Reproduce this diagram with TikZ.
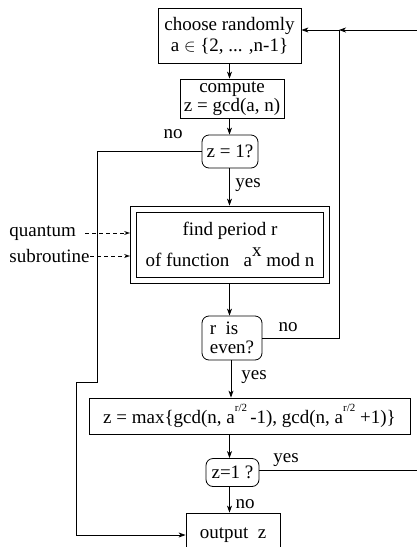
\documentclass[tikz,border=0pt]{standalone}
\usepackage{fontspec}
\setmainfont{Liberation Serif}
\usetikzlibrary{arrows.meta,positioning}
\newcommand{\halfexp}{\raisebox{12pt}{\fontsize{11}{11}\selectfont r/2}}

\begin{document}
\begin{tikzpicture}[x=1pt,y=1pt,>={Stealth[length=7pt,width=5pt,inset=2pt]},
  font=\rmfamily\fontsize{19}{21}\selectfont,line width=0.8pt,
  box/.style={draw,inner sep=0pt,align=center},
  cond/.style={draw,rounded corners=7pt,inner sep=0pt},
  lab/.style={inner sep=0pt}]
\useasboundingbox (0,0) rectangle (417,-547);

\node[box,minimum width=143pt,minimum height=55pt] (choose) at (229.5,-35.5)
  {choose randomly\\a $\in$ \{2, ... ,n-1\}};
\node[box,minimum width=104pt,minimum height=39pt,below of=choose,node distance=63pt,xshift=2.5pt] (compute)
  {compute\\[-2pt]z = gcd(a, n)};
\node[cond,minimum width=56pt,minimum height=33pt,below of=compute,node distance=53pt,xshift=-2pt] (zone)
  {z = 1?};
\node[box,minimum width=187pt,minimum height=65pt,below of=zone,node distance=93pt] (period)
  {find period r\\[8pt]of function\ \ \ a\raisebox{10pt}{x}\ mod n};
\node[draw,minimum width=199pt,minimum height=77pt] (periodo) at (period) {};
\node[cond,minimum width=60pt,minimum height=44pt,align=left,below of=period,node distance=93.5pt,xshift=2pt] (even)
  {r\ \ is\\[-2pt]even?};
\node[box,minimum width=321pt,minimum height=36pt,below of=even,node distance=78pt,xshift=17.5pt] (max)
  {z = max\{gcd(n, a\halfexp\,-1), gcd(n, a\halfexp\ +1)\}};
\node[cond,minimum width=53pt,minimum height=28pt,below of=max,node distance=56.5pt,xshift=-17pt] (zoneb)
  {z=1 ?};
\node[box,minimum width=94pt,minimum height=44pt,below of=zoneb,node distance=62.5pt,xshift=0.5pt] (out)
  {output\ \ z};

% quantum part
\node[lab,anchor=west] (quant) at (9,-233) {quantum};
\node[lab,anchor=west] (subr) at (9,-256) {subroutine};

% labels
\node[lab] (no1) at (173,-134) {no};
\node[lab] (yes1) at (248,-185) {yes};
\node[lab] (no2) at (288,-327) {no};
\node[lab] (yes2) at (254,-377) {yes};
\node[lab] (yes3) at (286,-460) {yes};
\node[lab] (no3) at (245,-504) {no};

\coordinate (rin) at (417,-30);
\coordinate (jn) at (339,-30);
\coordinate (rout) at (417,-470);

\draw[->] (choose.south) -- (choose.south |- compute.north);
\draw[->] (choose.south |- compute.south) -- (choose.south |- zone.north);
\draw[->] (choose.south |- zone.south) -- (choose.south |- periodo.north);
\draw[->] (choose.south |- periodo.south) -- (choose.south |- even.north);
\draw[->] ([xshift=-1pt]even.south) -- ([xshift=-1pt]even.south |- max.north);
\draw[->] (choose.south |- max.south) -- (choose.south |- zoneb.north);
\draw[->] (choose.south |- zoneb.south) -- (choose.south |- out.north);

\draw[->] (zone.west) -| (97,-382) -- (76,-382) |- (out.west);
\draw[->] (rin) -- (jn);
\draw[->] (jn) -- (choose.east |- jn);
\draw (even.east) -| (jn);
\draw (zoneb.east |- rout) -- (rout);

\draw[-{Stealth[open,length=6pt,width=4pt]},dashed,dash pattern=on 4pt off 3pt,line width=0.6pt]
  ([xshift=9pt]quant.east) -- (quant.east -| periodo.west);
\draw[-{Stealth[open,length=6pt,width=4pt]},dashed,dash pattern=on 4pt off 3pt,line width=0.6pt]
  (subr.east) -- (subr.east -| periodo.west);
\end{tikzpicture}
\end{document}
